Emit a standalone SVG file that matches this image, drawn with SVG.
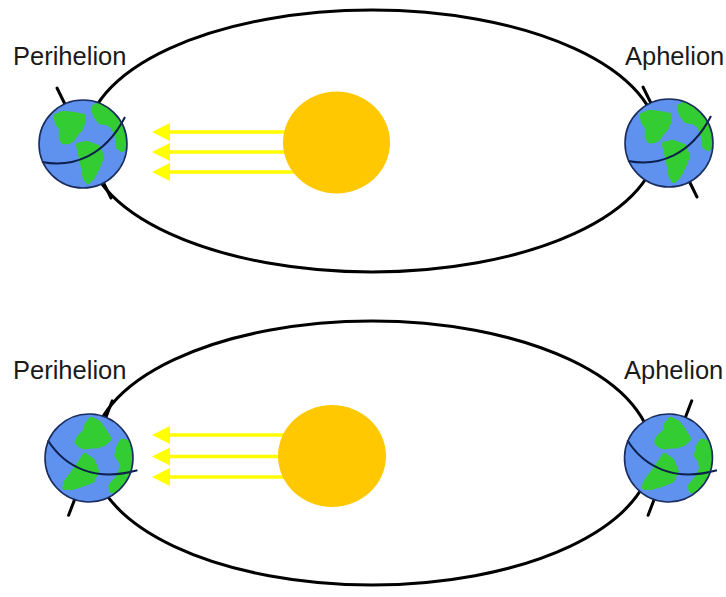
<svg xmlns="http://www.w3.org/2000/svg" xmlns:xlink="http://www.w3.org/1999/xlink" width="726" height="597" viewBox="0 0 726 597">
  <style>
    .orbit { fill: none; stroke: #000; stroke-width: 3; }
    .sun { fill: #ffc800; }
    .ray { stroke: #ffff00; stroke-width: 3.5; fill: none; }
    .axis { stroke: #000; stroke-width: 3; stroke-linecap: round; }
    .ocean { fill: #5e92ee; }
    .land { fill: #33cc33; stroke: #33cc33; stroke-width: 4.5; stroke-linejoin: round; }
    .equator { fill: none; stroke: #0d1f4d; stroke-width: 2; }
    .rim { fill: none; stroke: #1b2d5e; stroke-width: 1.6; }
    .label { font-family: "Liberation Sans", Arial, sans-serif; font-size: 25.5px; fill: #1a1a1a; }
  </style>
  <defs>
    <marker id="head" viewBox="0 -9 18 18" refX="0" refY="0" markerWidth="18" markerHeight="18" markerUnits="userSpaceOnUse" orient="auto">
      <path d="M0,-9 L18,0 L0,9 Z" fill="#ffff00"/>
    </marker>
    <clipPath id="globe"><circle r="44"/></clipPath>
    <!-- Earth drawn around its own centre; placed and tilted by transforms -->
    <g id="earth">
      <line class="axis" x1="-26" y1="-56" x2="28" y2="54"/>
      <circle class="ocean" r="44"/>
      <g clip-path="url(#globe)">
        <path class="land" d="M-27,-28 L-20,-31 L-10,-30 L0,-28 L0,-21 L-3,-14 L-6,-11 L-11,-4 L-15,-2 L-20,-2 L-22,-7 L-22,-16 L-26,-21 Z"/>
        <path class="land" d="M-5,1 L4,-1 L15,3 L19,13 L15,23 L10,33 L5,38 L2,34 L0,23 L-3,9 Z"/>
        <path class="land" d="M10,-36 L15,-39 L24,-39 L32,-32 L37,-26 L42,-14 L44,-2 L42,4 L39,6 L35,3 L34,-7 L30,-17 L24,-21 L17,-22 L12,-29 Z"/>
      </g>
      <path class="equator" d="M-41,18 C-10,24 22,12 42,-27"/>
      <circle class="rim" r="44"/>
    </g>
  </defs>

  <!-- upper panel -->
  <g id="orbit-top"><ellipse class="orbit" cx="372" cy="141" rx="286" ry="131"/></g>
  <g id="rays-top">
    <line class="ray" x1="300" y1="132" x2="170" y2="132" marker-end="url(#head)"/>
    <line class="ray" x1="300" y1="152" x2="170" y2="152" marker-end="url(#head)"/>
    <line class="ray" x1="300" y1="172" x2="170" y2="172" marker-end="url(#head)"/>
  </g>
  <g id="sun-top"><ellipse class="sun" cx="336.5" cy="142.5" rx="53.5" ry="51"/></g>
  <g id="earth-perihelion-top"><use xlink:href="#earth" transform="translate(83,144)"/></g>
  <g id="earth-aphelion-top"><use xlink:href="#earth" transform="translate(669,143)"/></g>
  <g id="label-perihelion-top"><text class="label" x="13" y="65">Perihelion</text></g>
  <g id="label-aphelion-top"><text class="label" x="625" y="65">Aphelion</text></g>

  <!-- lower panel -->
  <g id="orbit-bottom"><ellipse class="orbit" cx="372" cy="453" rx="280" ry="132"/></g>
  <g id="rays-bottom">
    <line class="ray" x1="300" y1="435" x2="170" y2="435" marker-end="url(#head)"/>
    <line class="ray" x1="300" y1="456.5" x2="170" y2="456.5" marker-end="url(#head)"/>
    <line class="ray" x1="300" y1="477" x2="170" y2="477" marker-end="url(#head)"/>
  </g>
  <g id="sun-bottom"><ellipse class="sun" cx="332" cy="456" rx="54" ry="51"/></g>
  <g id="earth-perihelion-bottom"><use xlink:href="#earth" transform="translate(89,458) rotate(47)"/></g>
  <g id="earth-aphelion-bottom"><use xlink:href="#earth" transform="translate(668.5,458) rotate(47)"/></g>
  <g id="label-perihelion-bottom"><text class="label" x="13" y="379">Perihelion</text></g>
  <g id="label-aphelion-bottom"><text class="label" x="624" y="379">Aphelion</text></g>
</svg>
